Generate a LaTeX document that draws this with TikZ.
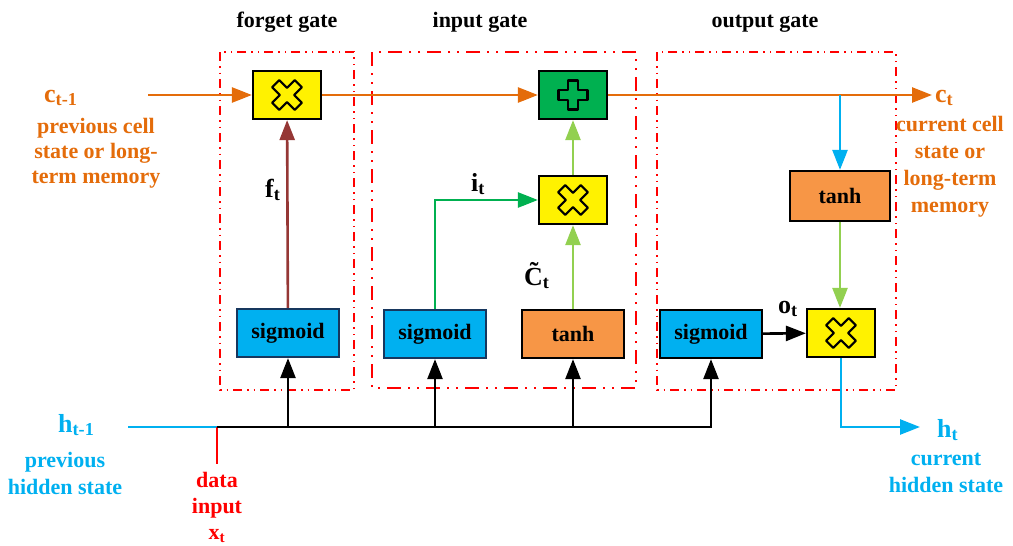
\documentclass[tikz,border=0pt]{standalone}
\usepackage{fontspec}
\setmainfont{Liberation Serif}
\usetikzlibrary{
  positioning,
  arrows.meta
}
\definecolor{cellorange}{HTML}{E46C0A}
\definecolor{hidblue}{HTML}{00B0F0}
\definecolor{sigborder}{HTML}{17375E}
\definecolor{tanhorange}{HTML}{F79646}
\definecolor{addgreen}{HTML}{00B050}
\definecolor{lightgreen}{HTML}{92D050}
\definecolor{forgetbrown}{HTML}{953735}
\tikzset{
  unit/.style={
    draw,
    line width=2.2pt,
    minimum width=102pt,
    minimum height=48pt,
    inner sep=0pt,
  },
  sig/.style={
    unit,
    fill=hidblue,
    draw=sigborder,
  },
  tnh/.style={
    unit,
    fill=tanhorange,
  },
  mul/.style={
    unit,
    fill=yellow,
    minimum width=68pt,
  },
  add/.style={
    mul,
    fill=addgreen,
  },
  glyph/.style={
    draw,
    line width=2.2pt,
    line join=round,
  },
  edge/.style={
    line width=2.6pt,
    -{Triangle[length=20pt,width=15pt]},
  },
  cell/.style={
    edge,
    cellorange,
  },
  hidden/.style={
    edge,
    hidblue,
  },
  bus/.style={
    edge,
    black,
  },
  framethin/.style={
    draw=red,
    line width=1.2pt,
    dash pattern=on 9pt off 5pt on 1.5pt off 5pt on 1.5pt off 5pt,
  },
  framethick/.style={
    draw=red,
    line width=2.6pt,
    dash pattern=on 14pt off 7pt on 2pt off 7pt on 2pt off 7pt,
  },
  sym/.style={
    font=\fontsize{26}{28}\selectfont\bfseries,
    inner sep=0pt,
    anchor=base west,
  },
  celltext/.style={
    text=cellorange,
    align=center,
    anchor=north,
  },
  hidtext/.style={
    text=hidblue,
    align=center,
    anchor=north,
  },
}
% cross-shaped sign drawn in the middle of a node
\newcommand{\opglyph}[3]{%
  \draw[glyph,shift={(#1.center)},rotate=#2]
    (-5,-#3) -- (5,-#3) -- (5,-5) -- (#3,-5) -- (#3,5) -- (5,5) -- (5,#3)
    -- (-5,#3) -- (-5,5) -- (-#3,5) -- (-#3,-5) -- (-5,-5) -- cycle;}

\begin{document}
\begin{tikzpicture}[x=1pt,y=-1pt,font=\fontsize{22}{25}\selectfont\bfseries]
	\useasboundingbox (0,0) rectangle (1013,546);

	% gate frames
	\draw[framethin] (220,52) rectangle (354,390);
	\draw[framethick] (372,52) rectangle (636,388);
	\draw[framethin] (657,52) rectangle (896,390);
	\node (tforget) at (287,22) {forget gate};
	\node (tinput) at (480,22) {input gate};
	\node (toutput) at (765,24) {output gate};

	% units
	\node[mul] (fmul) at (287,95) {};
	\node[add] (iadd) at (573,95) {};
	\node[mul] (imul) at (573,200) {};
	\node[tnh,minimum width=100pt,minimum height=50pt] (otanh) at (840,196) {tanh};
	\node[sig] (fsig) at (288,333) {sigmoid};
	\node[sig] (isig) at (435,334) {sigmoid};
	\node[tnh] (itanh) at (573,334) {tanh};
	\node[sig,draw=black] (osig) at (711,334) {sigmoid};
	\node[mul] (omul) at (841,333) {};
	\opglyph{fmul}{45}{16}
	\opglyph{imul}{45}{16}
	\opglyph{omul}{45}{16}
	\opglyph{iadd}{0}{14.5}

	% cell state
	\coordinate (cin) at (148,95);
	\coordinate (cout) at (932,95);
	\draw[cell] (cin) -- (fmul);
	\draw[cell] (fmul) -- (iadd);
	\draw[cell] (iadd) -- (cout);
	\node[sym,text=cellorange] (cprev) at (44,102) {c\textsubscript{t-1}};
	\node[celltext] (cprevtext) at (96,115) {previous cell\\state or long-\\term memory};
	\node[sym,text=cellorange] (ccur) at (935,102) {c\textsubscript{t}};
	\node[celltext,font=\fontsize{22}{27}\selectfont\bfseries] (ccurtext) at (950,113) {current cell\\state or\\long-term\\memory};

	% gates
	\draw[edge,forgetbrown] (fsig) -- (fmul);
	\node[sym] (ft) at (265,197) {f\textsubscript{t}};
	\draw[edge,addgreen] (isig) |- (imul);
	\node[sym] (it) at (471,191) {i\textsubscript{t}};
	\draw[edge,lightgreen] (itanh) -- (imul);
	\node[sym] (ct) at (524,285) {\~{C}\textsubscript{t}};
	\draw[edge,lightgreen] (imul) -- (iadd);
	\draw[hidden] (otanh.north |- cout) -- (otanh);
	\draw[edge,lightgreen] (otanh) -- (omul.north -| otanh);
	\draw[bus] (osig) -- (omul);
	\node[sym] (ot) at (778,313) {o\textsubscript{t}};

	% inputs
	\coordinate (hin) at (128,427);
	\coordinate (xin) at (217,427);
	\coordinate (xend) at (217,464);
	\coordinate (hout) at (920,427);
	\draw[line width=2.6pt,hidblue] (hin) -- (xin);
	\draw[line width=2.6pt,red] (xin) -- (xend);
	\draw[bus] (xin) -| (osig);
	\draw[bus] (fsig.south |- xin) -- (fsig);
	\draw[bus] (isig.south |- xin) -- (isig);
	\draw[bus] (itanh.south |- xin) -- (itanh);
	\draw[hidden] (omul) |- (hout);
	\node[sym,text=hidblue] (hprev) at (58,432) {h\textsubscript{t-1}};
	\node[hidtext,font=\fontsize{22}{27}\selectfont\bfseries] (hprevtext) at (65,449) {previous\\hidden state};
	\node[sym,text=hidblue] (hcur) at (937,437) {h\textsubscript{t}};
	\node[hidtext,font=\fontsize{22}{27}\selectfont\bfseries] (hcurtext) at (946,450) {current\\hidden state};
	\node[text=red,align=center,anchor=north,font=\fontsize{22}{26}\selectfont\bfseries] (xlabel) at (217,469) {data\\input\\x\textsubscript{t}};
\end{tikzpicture}
\end{document}
